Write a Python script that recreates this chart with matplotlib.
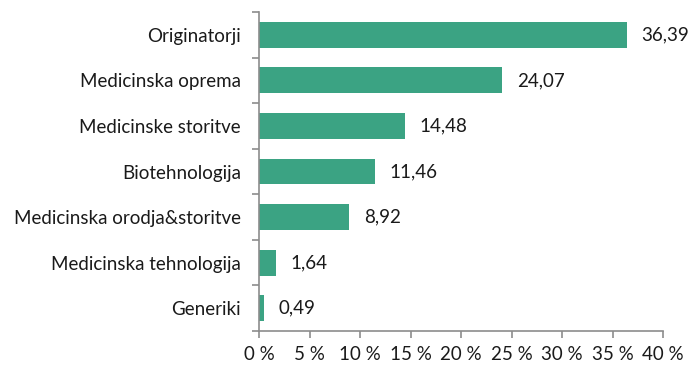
import matplotlib
matplotlib.use("Agg")
import matplotlib.pyplot as plt
from matplotlib.ticker import FixedLocator, FuncFormatter

categories = [
    "Originatorji",
    "Medicinska oprema",
    "Medicinske storitve",
    "Biotehnologija",
    "Medicinska orodja&storitve",
    "Medicinska tehnologija",
    "Generiki",
]
values = [36.39, 24.07, 14.48, 11.46, 8.92, 1.64, 0.49]
x_ticks = [0, 5, 10, 15, 20, 25, 30, 35, 40]

plt.rcParams["font.family"] = ["Lato", "DejaVu Sans"]

bar_color = "#3BA383"
axis_color = "#8C8C8C"
text_color = "#1A1A1A"
fs = 13.5

fig = plt.figure(figsize=(6.88, 3.65), dpi=100)
ax = fig.add_axes([0.3765, 0.0932, 0.5872, 0.8738])

n = len(categories)
ypos = list(range(n))[::-1]
ax.barh(ypos, values, height=0.57, color=bar_color, zorder=2)

for y, v in zip(ypos, values):
    ax.annotate(f"{v:.2f}".replace(".", ","), xy=(v, y), xytext=(10.5, 0),
                textcoords="offset points", va="center", ha="left",
                fontsize=fs, color=text_color)

ax.set_xlim(0, 40)
ax.set_ylim(-0.5, n - 0.5)
ax.xaxis.set_major_locator(FixedLocator(x_ticks))
ax.xaxis.set_major_formatter(FuncFormatter(lambda x, _: f"{int(x)} %"))

ax.set_yticks(ypos)
ax.set_yticklabels(categories)
ax.yaxis.set_minor_locator(FixedLocator([i - 0.5 for i in range(n + 1)]))
ax.tick_params(axis="y", which="major", length=0, pad=13, labelsize=fs, labelcolor=text_color)
ax.tick_params(axis="y", which="minor", length=5, width=1.2, color=axis_color, direction="out")
ax.tick_params(axis="x", which="major", length=5, width=1.2, color=axis_color, direction="out",
               labelsize=fs, labelcolor=text_color, pad=6)

for side in ["top", "right"]:
    ax.spines[side].set_visible(False)
for side in ["left", "bottom"]:
    ax.spines[side].set_color(axis_color)
    ax.spines[side].set_linewidth(1.2)

fig.savefig("out.png", dpi=100)
